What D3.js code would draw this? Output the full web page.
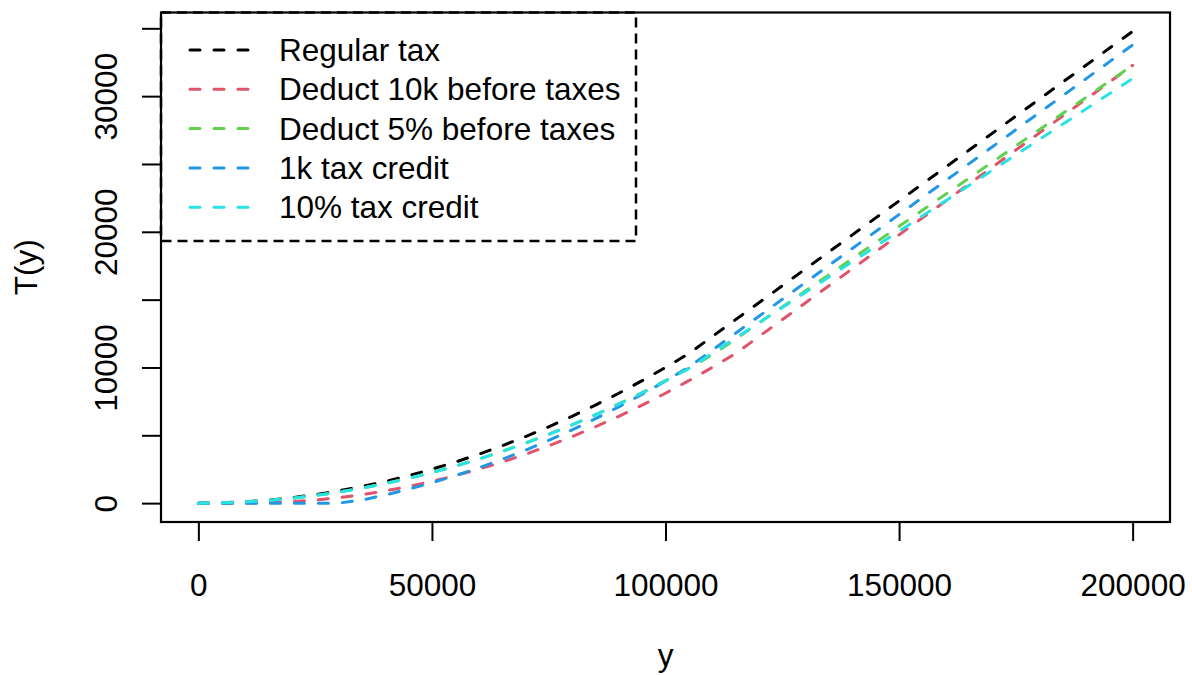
<!DOCTYPE html>
<html>
<head>
<meta charset="utf-8">
<script src="https://cdn.jsdelivr.net/npm/d3@7"></script>
<style>
  html, body { margin: 0; padding: 0; background: #ffffff; }
  svg { display: block; }
  text { font-family: "Liberation Sans", Arial, Helvetica, sans-serif; fill: #000; }
</style>
</head>
<body>
<svg id="chart" width="1192" height="675"></svg>
<script>
// Income grid (y) and the tax owed T(y) under each scheme
const incomes = [0, 5000, 10000, 15000, 20000, 25000, 30000, 35000, 40000, 45000,
  50000, 55000, 60000, 65000, 70000, 75000, 80000, 85000, 90000, 95000,
  100000, 105000, 110000, 115000, 120000, 125000, 130000, 135000, 140000, 145000,
  150000, 155000, 160000, 165000, 170000, 175000, 180000, 185000, 190000, 195000, 200000];

const regularTax = [0, 25, 100, 225, 400, 625, 900, 1225, 1600, 2025,
  2500, 3025, 3600, 4225, 4900, 5625, 6400, 7225, 8100, 9025,
  10000, 11025, 12275, 13525, 14775, 16025, 17275, 18525, 19775, 21025,
  22275, 23525, 24775, 26025, 27275, 28525, 29775, 31025, 32275, 33525, 34775];

const deduct10k = [0, 0, 0, 25, 100, 225, 400, 625, 900, 1225,
  1600, 2025, 2500, 3025, 3600, 4225, 4900, 5625, 6400, 7225,
  8100, 9025, 10000, 11025, 12275, 13525, 14775, 16025, 17275, 18525,
  19775, 21025, 22275, 23525, 24775, 26025, 27275, 28525, 29775, 31025, 32275];

const deduct5pct = [0, 23, 90, 203, 361, 564, 812, 1106, 1444, 1828,
  2256, 2730, 3249, 3813, 4422, 5077, 5776, 6521, 7310, 8145,
  9025, 9950, 10920, 12088, 13275, 14463, 15650, 16838, 18025, 19213,
  20400, 21588, 22775, 23963, 25150, 26338, 27525, 28713, 29900, 31088, 32275];

const credit1k = [0, 0, 0, 0, 0, 0, 0, 225, 600, 1025,
  1500, 2025, 2600, 3225, 3900, 4625, 5400, 6225, 7100, 8025,
  9000, 10025, 11275, 12525, 13775, 15025, 16275, 17525, 18775, 20025,
  21275, 22525, 23775, 25025, 26275, 27525, 28775, 30025, 31275, 32525, 33775];

const credit10pct = [0, 22.5, 90, 202.5, 360, 562.5, 810, 1102.5, 1440, 1822.5,
  2250, 2722.5, 3240, 3802.5, 4410, 5062.5, 5760, 6502.5, 7290, 8122.5,
  9000, 9922.5, 11047.5, 12172.5, 13297.5, 14422.5, 15547.5, 16672.5, 17797.5, 18922.5,
  20047.5, 21172.5, 22297.5, 23422.5, 24547.5, 25672.5, 26797.5, 27922.5, 29047.5, 30172.5, 31297.5];

const seriesNames = ["Regular tax", "Deduct 10k before taxes", "Deduct 5% before taxes",
  "1k tax credit", "10% tax credit"];
const seriesColors = ["#000000", "#DF536B", "#61D04F", "#2297E6", "#28E2E5"];
const seriesValues = [regularTax, deduct10k, deduct5pct, credit1k, credit10pct];

const xTicks = [0, 50000, 100000, 150000, 200000];
const yTicks = [0, 5000, 10000, 15000, 20000, 25000, 30000, 35000];
const yTickLabels = [0, 10000, 20000, 30000];

// Plot region
const plot = { left: 161, right: 1170, top: 12.5, bottom: 522 };
const FONT = 31.5;

const svg = d3.select("#chart");

// Axis ranges padded by 4% on each side
const xMin = d3.min(incomes), xMax = d3.max(incomes);
const xPad = (xMax - xMin) * 0.04;
const allVals = seriesValues.flat();
const yMin = d3.min(allVals), yMax = d3.max(allVals);
const yPad = (yMax - yMin) * 0.04;

const x = d3.scaleLinear().domain([xMin - xPad, xMax + xPad]).range([plot.left, plot.right]);
const y = d3.scaleLinear().domain([yMin - yPad, yMax + yPad]).range([plot.bottom, plot.top]);

// Curves
const line = d3.line().x(d => x(d[0])).y(d => y(d[1]));
const curves = svg.append("g").attr("class", "curves");
seriesValues.forEach((vals, i) => {
  curves.append("path")
    .datum(incomes.map((inc, j) => [inc, vals[j]]))
    .attr("d", line)
    .attr("fill", "none")
    .attr("stroke", seriesColors[i])
    .attr("stroke-width", 3)
    .attr("stroke-dasharray", "10,14")
    .attr("stroke-linecap", "round");
});

// Bottom axis
const xAxis = d3.axisBottom(x).tickValues(xTicks).tickSize(19).tickPadding(6)
  .tickFormat(d3.format("d"));
const gx = svg.append("g").attr("transform", `translate(0,${plot.bottom})`).call(xAxis);
gx.select(".domain")
  .attr("d", `M${x(xTicks[0])},0H${x(xTicks[xTicks.length - 1])}`)
  .attr("stroke-width", 2);
gx.selectAll(".tick line").attr("stroke-width", 2);
gx.selectAll(".tick text")
  .attr("font-size", FONT)
  .attr("font-family", "Liberation Sans, Arial, sans-serif")
  .attr("dy", null)
  .attr("y", 74);

// Left axis (labels on every other tick, rotated)
const yAxis = d3.axisLeft(y).tickValues(yTicks).tickSize(19)
  .tickFormat(d => yTickLabels.includes(d) ? String(d) : "");
const gy = svg.append("g").attr("transform", `translate(${plot.left},0)`).call(yAxis);
gy.select(".domain").remove();
gy.selectAll(".tick line").attr("stroke-width", 2);
gy.selectAll(".tick text")
  .attr("font-size", FONT)
  .attr("font-family", "Liberation Sans, Arial, sans-serif")
  .attr("x", null).attr("dy", null)
  .attr("text-anchor", "middle")
  .attr("transform", `translate(${117 - plot.left},0) rotate(-90)`);

// Axis titles
svg.append("text")
  .attr("x", (plot.left + plot.right) / 2)
  .attr("y", 666)
  .attr("text-anchor", "middle")
  .attr("font-size", FONT)
  .text("y");
svg.append("text")
  .attr("transform", `translate(37,${(plot.top + plot.bottom) / 2}) rotate(-90)`)
  .attr("text-anchor", "middle")
  .attr("font-size", FONT)
  .text("T(y)");

// Legend in the top-left corner with a dashed border
const legend = { left: plot.left, top: plot.top, right: 636, bottom: 241 };
const lg = svg.append("g").attr("class", "legend");
lg.append("rect")
  .attr("x", legend.left).attr("y", legend.top)
  .attr("width", legend.right - legend.left)
  .attr("height", legend.bottom - legend.top)
  .attr("fill", "#fff")
  .attr("stroke", "#000")
  .attr("stroke-width", 2.5)
  .attr("stroke-dasharray", "10,6");
seriesNames.forEach((name, i) => {
  const cy = 50 + i * 39.3;
  lg.append("line")
    .attr("x1", 190).attr("x2", 249)
    .attr("y1", cy).attr("y2", cy)
    .attr("stroke", seriesColors[i])
    .attr("stroke-width", 3)
    .attr("stroke-dasharray", "10,14")
    .attr("stroke-linecap", "round");
  lg.append("text")
    .attr("x", 279).attr("y", cy + 11)
    .attr("font-size", FONT)
    .text(name);
});

// Plot frame
svg.append("rect")
  .attr("x", plot.left).attr("y", plot.top)
  .attr("width", plot.right - plot.left)
  .attr("height", plot.bottom - plot.top)
  .attr("fill", "none")
  .attr("stroke", "#000")
  .attr("stroke-width", 2.2);
</script>
</body>
</html>
